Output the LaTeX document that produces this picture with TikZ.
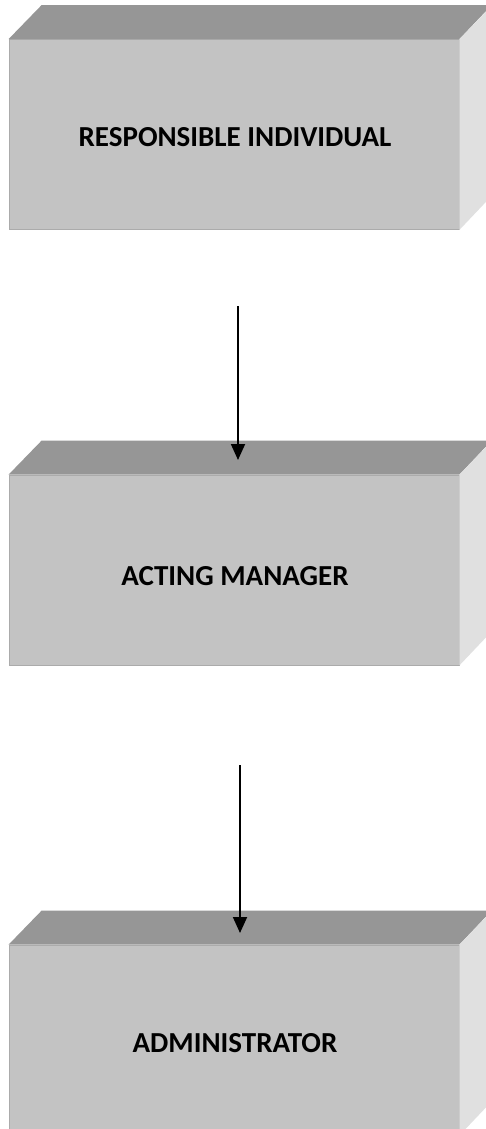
\documentclass[tikz,border=0pt]{standalone}
\usepackage{fontspec}
\setmainfont{Carlito}
\usetikzlibrary{arrows.meta}
\definecolor{frontc}{HTML}{C3C3C3}
\definecolor{topc}{HTML}{969696}
\definecolor{sidec}{HTML}{E0E0E0}
\definecolor{edgec}{HTML}{ABABAB}
\tikzset{
  front/.style={rectangle, fill=frontc, draw=edgec, line width=0.8pt, minimum width=450pt, minimum height=190pt, inner sep=0pt},
  lbl/.style={inner sep=0pt, font=\bfseries\fontsize{29}{34}\selectfont},
  topface/.style={fill=topc},
  sideface/.style={fill=sidec},
  flow/.style={line width=1.8pt, -{Triangle[length=16pt,width=14pt]}}
}
\newcommand{\cube}[1]{%
  \fill[topface] (#1.north west) -- ++(33,-34) -- ++(450,0) -- (#1.north east) -- cycle;
  \fill[sideface] (#1.north east) -- ++(33,-34) -- ++(0,190) -- (#1.south east) -- cycle;
}
\begin{document}
\begin{tikzpicture}[x=1pt,y=-1pt]
\useasboundingbox (0,0) rectangle (486,1129);
\fill[white] (0,0) rectangle (486,1129);
\node[front] (b1) at (234,134.5) {};
\node[front] (b2) at (234,570) {};
\node[front] (b3) at (234,1040) {};
\cube{b1}
\cube{b2}
\cube{b3}
\node[lbl] (l1) at (235,137) {RESPONSIBLE INDIVIDUAL};
\node[lbl] (l2) at (235,576) {ACTING MANAGER};
\node[lbl] (l3) at (235,1043) {ADMINISTRATOR};
\coordinate (s1) at (238,306);
\coordinate (t1) at (238,460);
\coordinate (s2) at (240,765);
\coordinate (t2) at (240,933);
\draw[flow] (s1) -- (t1);
\draw[flow] (s2) -- (t2);
\end{tikzpicture}
\end{document}
